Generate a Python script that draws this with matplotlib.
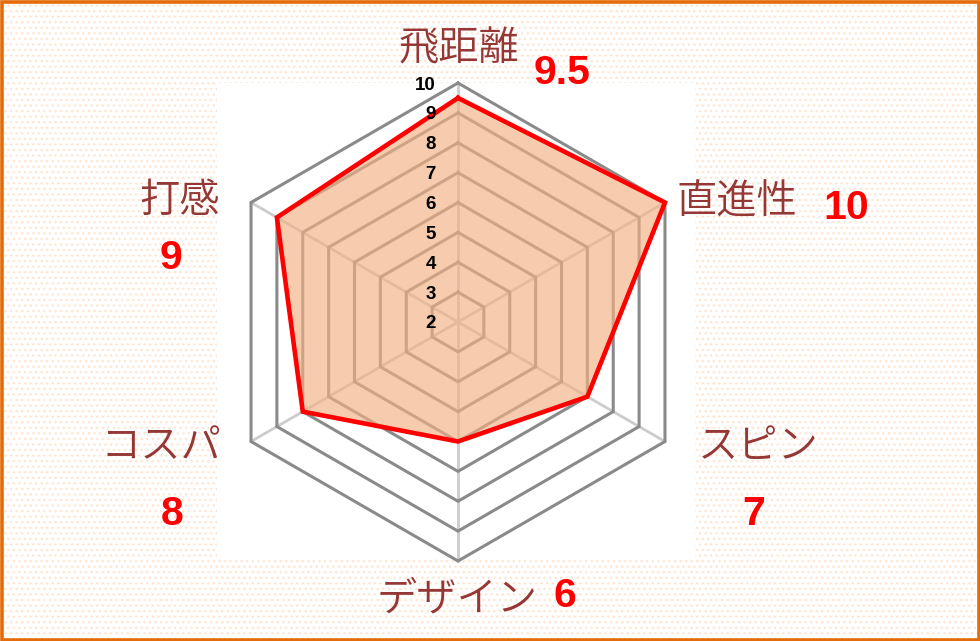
import numpy as np
import matplotlib
matplotlib.use("Agg")
import matplotlib.pyplot as plt
from matplotlib.patches import Rectangle
from matplotlib.transforms import offset_copy


# -----------------------------
# Data
# -----------------------------
categories = ["飛距離", "直進性", "スピン", "デザイン", "コスパ", "打感"]
scores = [9.5, 10, 7, 6, 8, 9]
grid_levels = [3, 4, 5, 6, 7, 8, 9, 10]
tick_values = [2, 3, 4, 5, 6, 7, 8, 9, 10]
r_min, r_max = 2, 10

# text box centres in pixels (as placed in the original sheet)
label_pos = [(459, 49), (737, 202), (758, 447), (457, 599), (161, 447), (180, 201)]
score_pos = [(562, 73), (846, 208), (754, 514), (565, 596), (172, 514), (171, 258)]


# -----------------------------
# Figure and background
# -----------------------------
W, H = 980, 641
fig = plt.figure(figsize=(W / 100, H / 100), dpi=100)

bg = Rectangle((0, 0), 1, 1, transform=fig.transFigure, facecolor="white",
               edgecolor="#fee6d2", hatch="...", linewidth=0, zorder=-10)
fig.patches.append(bg)

plot_area = Rectangle((217 / W, 1 - 558 / H), (695 - 217) / W, (558 - 83) / H,
                      transform=fig.transFigure, facecolor="white",
                      edgecolor="none", zorder=-9)
fig.patches.append(plot_area)

border = Rectangle((1.5 / W, 1.5 / H), (W - 3) / W, (H - 3) / H,
                   transform=fig.transFigure, fill=False,
                   edgecolor="#E46C0A", linewidth=2.6, zorder=10)
fig.patches.append(border)


# -----------------------------
# Radar axes
# -----------------------------
cx, cy, R = 458, 322, 239
ax = fig.add_axes([(cx - R) / W, (H - cy - R) / H, 2 * R / W, 2 * R / H],
                  projection="polar")
ax.set_theta_offset(np.pi / 2)
ax.set_theta_direction(-1)
ax.set_ylim(r_min, r_max)
ax.set_axis_off()

n = len(categories)
theta = np.arange(n) * 2 * np.pi / n
theta_closed = np.append(theta, theta[0])
scores_closed = np.append(scores, scores[0])

# spokes
for t in theta:
    ax.plot([t, t], [r_min, r_max], color="#cccccc", lw=2.0, zorder=1,
            clip_on=False)

# hexagon grid
for lvl in grid_levels:
    ax.plot(theta_closed, [lvl] * (n + 1), color="#8a8a8a", lw=2.2,
            zorder=2, clip_on=False, solid_joinstyle="miter")

# series
ax.fill(theta_closed, scores_closed, color="#F4B183", alpha=0.65,
        lw=0, zorder=3, clip_on=False)
ax.plot(theta_closed, scores_closed, color="#FF0000", lw=3.3, zorder=4,
        clip_on=False, solid_joinstyle="miter")

# value axis labels
tick_tr = offset_copy(ax.transData, fig=fig, x=-22, y=-2, units="dots")
for v in tick_values:
    ax.text(0, v, str(v), transform=tick_tr, ha="right", va="center",
            fontsize=13.5, fontweight="bold", family="Liberation Sans",
            color="black", zorder=5)


# -----------------------------
# Category names and scores
# -----------------------------
for name, (x, y) in zip(categories, label_pos):
    fig.text(x / W, 1 - y / H, name, ha="center", va="center",
             fontsize=29, color="#953735", fontweight=350,
             family=["Noto Sans CJK JP", "DejaVu Sans"])

for val, (x, y) in zip(scores, score_pos):
    fig.text(x / W, 1 - y / H, f"{val:g}", ha="center", va="center",
             fontsize=29.5, fontweight="bold", color="#FF0000",
             family="Liberation Sans")

fig.savefig("out.png", dpi=100)
